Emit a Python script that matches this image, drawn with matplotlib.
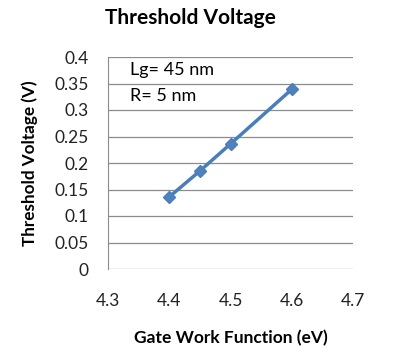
import matplotlib
matplotlib.use('Agg')
import matplotlib.pyplot as plt

work_function = [4.4, 4.45, 4.5, 4.6]
threshold_v = [0.136, 0.185, 0.236, 0.339]
x_ticks = [4.3, 4.4, 4.5, 4.6, 4.7]
y_ticks = [0, 0.05, 0.1, 0.15, 0.2, 0.25, 0.3, 0.35, 0.4]

plt.rcParams['font.family'] = ['Lato', 'DejaVu Sans']

fig = plt.figure(figsize=(3.93, 3.53), dpi=100)
ax = fig.add_axes([108 / 393, 1 - 269 / 353, (353 - 108) / 393, (269 - 57) / 353])

ax.plot(work_function, threshold_v, color='#4A7EBB', linewidth=2.5,
        marker='D', markersize=6.5, markerfacecolor='#4F81BD', markeredgecolor='#4A7EBB')

ax.set_xlim(4.3, 4.7)
ax.set_ylim(0, 0.4)
ax.set_xticks(x_ticks)
ax.set_xticklabels([str(v) for v in x_ticks])
ax.set_yticks(y_ticks)
ax.set_yticklabels(['0' if v == 0 else ('%g' % v) for v in y_ticks])
ax.tick_params(axis='both', length=0, labelsize=12.5, colors='#222222')
ax.tick_params(axis='x', pad=17)
ax.tick_params(axis='y', pad=14)
ax.grid(axis='y', color='#8C8C8C', linewidth=0.9)
ax.set_axisbelow(True)
for side in ['top', 'right', 'bottom']:
    ax.spines[side].set_visible(False)
ax.spines['left'].set_color('#8C8C8C')

ax.text(4.336, 0.375, 'Lg= 45 nm', fontsize=13, va='center')
ax.text(4.336, 0.326, 'R= 5 nm', fontsize=13, va='center')

fig.text(190 / 393, 1 - 18 / 353, 'Threshold Voltage', fontsize=15,
         fontweight='bold', ha='center', va='center')
fig.text(231 / 393, 1 - 338 / 353, 'Gate Work Function (eV)', fontsize=12.5,
         fontweight='bold', ha='center', va='center')
fig.text(30 / 393, 1 - 163 / 353, 'Threshold Voltage (V)', fontsize=12.3,
         fontweight='bold', ha='center', va='center', rotation=90)

fig.savefig('out.png', dpi=100)
